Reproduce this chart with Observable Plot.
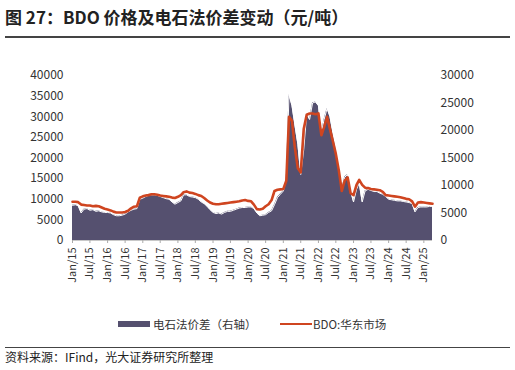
<!DOCTYPE html>
<html><head><meta charset="utf-8">
<script src="https://cdn.jsdelivr.net/npm/d3@7"></script>
<script src="https://cdn.jsdelivr.net/npm/@observablehq/plot@0.6"></script>
<style>
body{margin:0;background:#fff;font-family:"Noto Sans CJK SC","Noto Sans",sans-serif;}
#wrap{position:relative;width:515px;height:370px;overflow:hidden;}
.title{position:absolute;left:5px;top:4px;font-size:17px;font-weight:bold;color:#222;white-space:nowrap;}
.hr{position:absolute;left:5px;width:505px;background:#444;}
.src{position:absolute;left:5px;top:347px;font-size:12px;color:#222;white-space:nowrap;}
.leg{position:absolute;top:316px;font-size:11.5px;color:#333;white-space:nowrap;display:flex;align-items:center;}
#chart{position:absolute;left:0;top:0;}
</style></head>
<body><div id="wrap">
<div class="title">图 27：BDO 价格及电石法价差变动（元/吨）</div>
<div class="hr" style="top:36px;height:1.5px"></div>
<div id="chart"></div>
<div class="leg" style="left:118px"><span style="display:inline-block;width:32px;height:6px;background:#55506f;margin-right:3px"></span>电石法价差（右轴）</div>
<div class="leg" style="left:280px"><span style="display:inline-block;width:32px;height:2.5px;background:#cf4520;margin-right:1px"></span>BDO:华东市场</div>
<div class="hr" style="top:347px;height:1px"></div>
<div class="src" style="top:348px">资料来源：IFind，光大证券研究所整理</div>
</div>
<script>
// monthly from Jan 2015 to Apr 2025
const startMonth = new Date(Date.UTC(2015, 0, 1));
const bdo = [
9400,9400,9300,8700,8600,8500,8500,8300,8400,8300,8000,7700,
7500,7300,7000,6800,6800,6800,6900,7200,7800,8200,8300,10400,
10700,10900,11000,11200,11200,11100,10900,10800,10700,10600,10400,10300,
10600,11000,11700,11900,11600,11500,11300,11000,10800,10300,9700,9200,
8900,8800,8800,8900,9000,9100,9200,9300,9400,9500,9700,9800,
9600,9500,8700,7600,7500,7700,8300,8800,9800,12000,12300,12400,
12500,14500,30000,29000,22500,17500,16500,27000,30500,30800,30800,30600,
30800,25500,27500,30000,27000,24000,21000,17000,12000,14500,15300,11500,
11000,13500,14700,13500,12800,12700,12500,12400,12300,12200,11800,11000,
10900,10800,10700,10600,10500,10300,10100,10000,9500,8200,9200,9300,
9200,9100,9000,8900
];
const spread = [
6400,6500,6300,5000,5700,5800,5500,5600,5300,5400,5200,5100,
5100,5000,4700,4500,4500,4600,4800,5200,5500,5700,5800,7500,
7700,8000,8200,8300,8300,8200,8000,7800,7600,7500,7000,6600,
6900,7200,8300,8300,8000,7900,7800,7500,7000,6700,6200,5600,
5100,4900,5000,4800,5100,5300,5300,5500,5700,5900,6000,6000,
6100,6100,5800,5000,4500,4600,4700,5100,5400,6500,7800,8400,
9000,11000,26500,24500,21000,17500,12000,16500,23000,22000,25000,25200,
24500,19500,22000,24000,22500,19500,17000,13000,9300,11500,12000,9000,
7000,9300,10400,7000,9000,9300,9100,8900,8900,8600,8400,8000,
7500,7400,7300,7200,7200,7100,7000,6900,6700,5200,6000,6100,
6100,6100,6200,6200
];
const leftTicks = [0,5000,10000,15000,20000,25000,30000,35000,40000];
const rightTicks = [0,5000,10000,15000,20000,25000,30000];
const ratio = 40000/30000;

const months = d3.utcMonth.range(startMonth, d3.utcMonth.offset(startMonth, bdo.length));
const rows = months.map((d,i)=>({date:d, bdo:bdo[i], spread:spread[i], spreadL:spread[i]*ratio}));
const xTicks = d3.utcMonth.every(6).range(startMonth, d3.utcMonth.offset(months[months.length-1],1));

const chart = Plot.plot({
  width:515, height:300,
  marginTop:75, marginBottom:60, marginLeft:72, marginRight:83,
  style:{fontFamily:'"Noto Sans CJK SC","Noto Sans",sans-serif', fontSize:"12px", color:"#333", background:"transparent"},
  x:{type:"utc", domain:[startMonth, months[months.length-1]]},
  y:{domain:[0,40000]},
  marks:[
    Plot.areaY(rows,{x:"date", y:"spreadL", fill:"#55506f"}),
    Plot.lineY(rows,{x:"date", y:"spreadL", stroke:"white", strokeWidth:1}),
    Plot.lineY(rows,{x:"date", y:"bdo", stroke:"#cf4520", strokeWidth:2.6}),
    Plot.ruleY([0],{stroke:"#c8c8c8", strokeWidth:1}),
    Plot.axisY(leftTicks,{anchor:"left", tickSize:0, tickPadding:9, tickFormat:d3.format("d"), fontSize:12}),
    Plot.axisY(rightTicks.map(v=>v*ratio),{anchor:"right", tickSize:0, tickPadding:8, tickFormat:d=>d3.format("d")(Math.round(d/ratio)), fontSize:12}),
    Plot.axisX(xTicks,{anchor:"bottom", tickSize:3, tickPadding:4, stroke:"#aaa", tickRotate:-90, tickFormat:d3.utcFormat("%b/%y"), fontSize:11})
  ]
});
document.getElementById("chart").appendChild(chart);
</script>
</body></html>
